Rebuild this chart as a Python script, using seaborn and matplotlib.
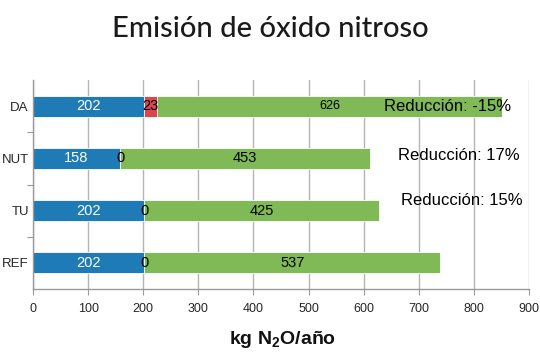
import matplotlib
matplotlib.use("Agg")
import matplotlib.pyplot as plt
import seaborn as sns
import pandas as pd

# Scenario data (kg N2O per year)
categories = ["DA", "NUT", "TU", "REF"]
base = [202, 158, 202, 202]
extra = [23, 0, 0, 0]
rest = [626, 453, 425, 537]
reduction_labels = ["Reducción: -15%", "Reducción: 17%", "Reducción: 15%", ""]
xticks = [0, 100, 200, 300, 400, 500, 600, 700, 800, 900]

c_blue = "#1f7bb5"
c_red = "#d8464f"
c_green = "#7fba56"

sns.set_theme(style="white")
narrow = ["Liberation Sans Narrow", "Liberation Sans", "DejaVu Sans"]
plt.rcParams["font.family"] = narrow

df = pd.DataFrame({"cat": categories, "base": base, "extra": extra, "rest": rest})
df["s1"] = df["base"]
df["s2"] = df["base"] + df["extra"]
df["s3"] = df["s2"] + df["rest"]

fig = plt.figure(figsize=(5.4, 3.55), dpi=100)
ax = fig.add_axes([33 / 540, 1 - 289 / 355, (529 - 33) / 540, (289 - 80) / 355])

# Stacked bars drawn as cumulative totals, back to front
for col, color in [("s3", c_green), ("s2", c_red), ("s1", c_blue)]:
    sns.barplot(data=df, x=col, y="cat", order=categories, color=color,
                width=0.4, ax=ax, edgecolor="white", linewidth=0.6, saturation=1)

ax.set_xlim(0, 900)
ax.set_ylim(3.5, -0.5)
ax.set_xticks(xticks)
ax.set_xticklabels([str(v) for v in xticks], fontsize=9)
ax.set_xlabel("")
ax.set_ylabel("")
ax.set_yticks(range(len(categories)))
ax.set_yticklabels(categories, fontsize=9.5)
ax.tick_params(axis="y", length=0, pad=3)
ax.set_yticks([0.5, 1.5, 2.5], minor=True)
ax.tick_params(axis="y", which="minor", length=4, width=0.8, color="#999999", direction="out", left=True)
ax.tick_params(axis="x", length=4, width=0.8, color="#999999", direction="out", bottom=True, pad=6)

ax.grid(axis="x", color="#b4b4b4", linewidth=1)
ax.set_axisbelow(True)
for side in ["top", "right"]:
    ax.spines[side].set_visible(False)
for side in ["left", "bottom"]:
    ax.spines[side].set_color("#999999")
    ax.spines[side].set_linewidth(1)

# Segment labels
for i, row in df.iterrows():
    ax.text(row["base"] / 2, i, str(row["base"]), ha="center", va="center",
            color="white", fontsize=10.5)
    ax.text(row["base"] + row["extra"] / 2, i, str(row["extra"]), ha="center",
            va="center", color="black", fontsize=10.5)
    ax.text(row["s2"] + row["rest"] / 2, i, str(row["rest"]), ha="center",
            va="center", color="black", fontsize=9 if row["extra"] else 10.5)

# Reduction notes
note_pos = [(636, 0.0), (662, 0.95), (667, 1.8)]
for (x, y), txt in zip(note_pos, reduction_labels):
    ax.text(x, y, txt, ha="left", va="center", fontsize=12, color="black")

fig.text(270 / 540, 1 - 29 / 355, "Emisión de óxido nitroso", ha="center",
         va="center", fontsize=21, family=["Lato", "DejaVu Sans"],
         fontweight="medium", color="#1a1a1a")
fig.text(283 / 540, 1 - 340 / 355, r"kg N$_{\mathregular{2}}$O/año", ha="center",
         va="center", fontsize=14, fontweight="bold", color="#111111")

fig.savefig("out.png", dpi=100)
